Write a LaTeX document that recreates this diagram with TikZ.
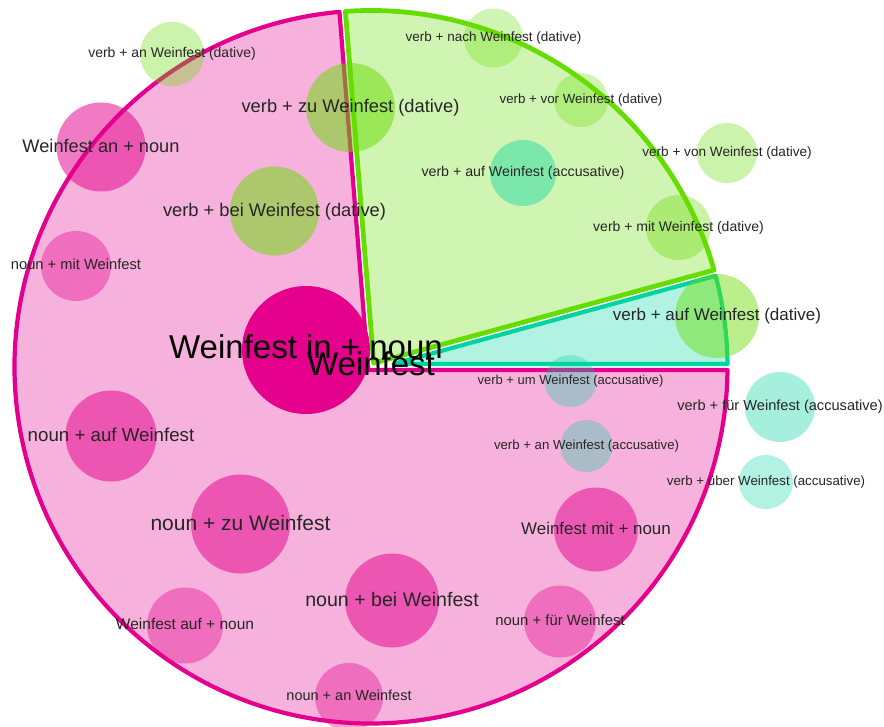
\documentclass[tikz,border=0pt]{standalone}
\usepackage{fontspec}
\setmainfont{Liberation Sans}
\usetikzlibrary{calc}

\definecolor{nounpink}{RGB}{228,0,140}
\definecolor{datgreen}{RGB}{102,221,0}
\definecolor{accteal}{RGB}{0,212,160}
\definecolor{labelgray}{RGB}{38,38,38}

\tikzset{
  sectorpink/.style={draw=nounpink, fill=nounpink, fill opacity=0.3, draw opacity=1, line width=4.2pt, line join=round},
  sectorgreen/.style={draw=datgreen, fill=datgreen, fill opacity=0.3, draw opacity=1, line width=4.8pt, line join=round},
  sectorteal/.style={draw=accteal, fill=accteal, fill opacity=0.3, draw opacity=1, line width=4.2pt, line join=round},
  bubble/.style={circle, draw=none, inner sep=0pt, minimum size=#1},
  pinkbub/.style={bubble=#1, fill=nounpink},
  greenbub/.style={bubble=#1, fill=datgreen},
  tealbub/.style={bubble=#1, fill=accteal},
  % baseline placed so that the middle of the capitals sits on the bubble centre
  lbl/.style={text=labelgray, inner sep=0pt, anchor=base,
              font=\fontsize{#1}{#1}\selectfont, yshift={-0.36*#1pt+1.5pt}},
  biglbl/.style={text=black, inner sep=0pt, anchor=base,
              font=\fontsize{#1}{#1}\selectfont, yshift={-0.36*#1pt+3.5pt}},
}

\begin{document}
\begin{tikzpicture}[x=1pt,y=1pt]
  \fill[white] (0,0) rectangle (884,-727);
  \useasboundingbox (0,0) rectangle (884,-727);

  \def\pieR{356.5}
  \coordinate (C) at (371,-367);

  % offset edges leave a narrow gap between neighbouring slices
  \path (C) ++(184.6:3) coordinate (p1) ++(94.6:50) coordinate (p2);
  \path (C) ++(270:3)   coordinate (p3) ++(0:50)    coordinate (p4);
  \coordinate (pinkApex) at (intersection of p1--p2 and p3--p4);

  \path (C) ++(105.3:3) coordinate (g1) ++(15.3:50) coordinate (g2);
  \path (C) ++(4.6:3)   coordinate (g3) ++(94.6:50) coordinate (g4);
  \coordinate (greenApex) at (intersection of g1--g2 and g3--g4);

  \path (C) ++(90:3)    coordinate (t1) ++(0:50)    coordinate (t2);
  \path (C) ++(285.3:3) coordinate (t3) ++(15.3:50) coordinate (t4);
  \coordinate (tealApex) at (intersection of t1--t2 and t3--t4);

  % pie slices
  \draw[sectorpink] (pinkApex) -- ([shift={(95.08:\pieR)}]C)
    arc[start angle=95.08, end angle=359.52, radius=\pieR] -- cycle;
  \draw[sectorgreen] (greenApex) -- ([shift={(15.78:\pieR)}]C)
    arc[start angle=15.78, end angle=94.12, radius=\pieR] -- cycle;
  \draw[sectorteal] (tealApex) -- ([shift={(0.48:\pieR)}]C)
    arc[start angle=0.48, end angle=14.82, radius=\pieR] -- cycle;

  % noun bubbles
  \node[pinkbub=128pt] (bIn)    at (306,-350) {};
  \node[pinkbub=89pt,  fill opacity=0.52] (bAnN)   at (101,-147) {};
  \node[pinkbub=70pt,  fill opacity=0.38] (bMitN)  at (76,-266) {};
  \node[pinkbub=91pt,  fill opacity=0.52] (bAufN)  at (111,-436) {};
  \node[pinkbub=99pt,  fill opacity=0.52] (bZuN)   at (240.5,-524) {};
  \node[pinkbub=76pt,  fill opacity=0.38] (bAufW)  at (185,-625.5) {};
  \node[pinkbub=94pt,  fill opacity=0.52] (bBeiN)  at (392,-600.5) {};
  \node[pinkbub=68pt,  fill opacity=0.38] (bAnNb)  at (349,-697) {};
  \node[pinkbub=72pt,  fill opacity=0.38] (bFuerN) at (560,-621.5) {};
  \node[pinkbub=84pt,  fill opacity=0.50] (bMitW)  at (596,-529.5) {};

  % dative verb bubbles
  \node[greenbub=64pt, fill opacity=0.33] (vAnD)   at (172,-54) {};
  \node[greenbub=89pt, fill opacity=0.50] (vZu)    at (350.5,-107.5) {};
  \node[greenbub=89pt, fill opacity=0.50] (vBei)   at (274.5,-211) {};
  \node[greenbub=59pt, fill opacity=0.30] (vNach)  at (493.5,-38) {};
  \node[greenbub=54pt, fill opacity=0.30] (vVor)   at (581,-100) {};
  \node[greenbub=60pt, fill opacity=0.33] (vVon)   at (727,-153) {};
  \node[greenbub=65pt, fill opacity=0.35] (vMit)   at (678.5,-227.5) {};
  \node[greenbub=84pt, fill opacity=0.45] (vAufD)  at (717,-316) {};

  % accusative verb bubbles
  \node[tealbub=66pt, fill opacity=0.40] (vAufA)  at (523,-173) {};
  \node[tealbub=52pt, fill opacity=0.30] (vUm)    at (570.5,-381) {};
  \node[tealbub=70pt, fill opacity=0.35] (vFuer)  at (780,-407) {};
  \node[tealbub=52pt, fill opacity=0.30] (vAnA)   at (586.5,-446) {};
  \node[tealbub=54pt, fill opacity=0.30] (vUeber) at (766,-482) {};

  % labels
  \node[lbl=18.2] (lAnN)   at (bAnN)   {Weinfest an + noun};
  \node[lbl=14.7] (lMitN)  at (bMitN)  {noun + mit Weinfest};
  \node[lbl=18.7] (lAufN)  at (bAufN)  {noun + auf Weinfest};
  \node[lbl=21]   (lZuN)   at (bZuN)   {noun + zu Weinfest};
  \node[lbl=15.5] (lAufW)  at (bAufW)  {Weinfest auf + noun};
  \node[lbl=19.6] (lBeiN)  at (bBeiN)  {noun + bei Weinfest};
  \node[lbl=14.5] (lAnNb)  at (bAnNb)  {noun + an Weinfest};
  \node[lbl=14.9] (lFuerN) at (bFuerN) {noun + für Weinfest};
  \node[lbl=16.9] (lMitW)  at (bMitW)  {Weinfest mit + noun};

  \node[lbl=14]   (tAnD)   at (vAnD)   {verb + an Weinfest (dative)};
  \node[lbl=18.3] (tZu)    at (vZu)    {verb + zu Weinfest (dative)};
  \node[lbl=18.3] (tBei)   at (vBei)   {verb + bei Weinfest (dative)};
  \node[lbl=13.5] (tNach)  at (vNach)  {verb + nach Weinfest (dative)};
  \node[lbl=13.3] (tVor)   at (vVor)   {verb + vor Weinfest (dative)};
  \node[lbl=13.6] (tVon)   at (vVon)   {verb + von Weinfest (dative)};
  \node[lbl=14]   (tMit)   at (vMit)   {verb + mit Weinfest (dative)};
  \node[lbl=17]   (tAufD)  at (vAufD)  {verb + auf Weinfest (dative)};

  \node[lbl=14.2] (tAufA)  at (vAufA)  {verb + auf Weinfest (accusative)};
  \node[lbl=13]   (tUm)    at (vUm)    {verb + um Weinfest (accusative)};
  \node[lbl=14.6] (tFuer)  at (vFuer)  {verb + für Weinfest (accusative)};
  \node[lbl=13.2] (tAnA)   at (vAnA)   {verb + an Weinfest (accusative)};
  \node[lbl=13.3] (tUeber) at (vUeber) {verb + über Weinfest (accusative)};

  \node[biglbl=33] (lIn)     at (bIn) {Weinfest in + noun};
  \node[biglbl=33] (lCenter) at (C)   {Weinfest};
\end{tikzpicture}
\end{document}
